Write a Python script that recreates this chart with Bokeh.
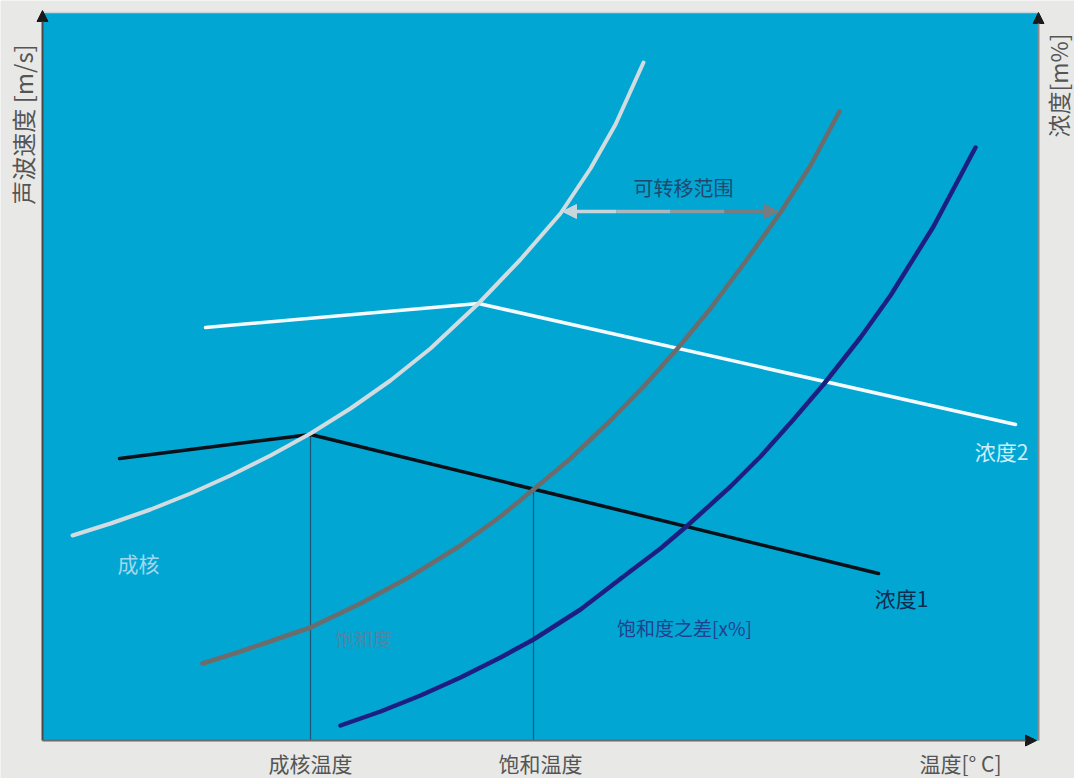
from bokeh.plotting import figure
from bokeh.models import Label, Arrow, NormalHead
from bokeh.embed import file_html
from bokeh.resources import INLINE
import math

# ---- data (temperature on x, sound velocity / concentration on y, relative units) ----
# nucleation curve
nuc_t = [30, 68, 108, 148, 188, 228, 268, 308, 348, 388, 436, 478, 518, 548, 573, 601]
nuc_v = [205, 217, 231, 247, 265, 285, 307, 332, 360, 392, 437, 481, 527, 572, 616, 678]

# saturation curve
sat_t = [160, 198, 233, 268, 318, 368, 418, 458, 491, 528, 568, 603, 635, 668, 703, 738, 768, 797]
sat_v = [77, 89, 101, 113, 137, 164, 195, 224, 251, 282, 320, 356, 392, 432, 479, 528, 575, 629]

# saturation difference curve [x%]
dif_t = [298, 338, 378, 418, 458, 491, 538, 581, 618, 645, 688, 718, 751, 781, 818, 848, 891, 933]
dif_v = [15, 29, 45, 63, 83, 101, 131, 164, 192, 215, 254, 284, 321, 356, 403, 445, 514, 593]

# concentration 1 and concentration 2 (kinked at the nucleation point)
c1_t = [77, 268, 836]
c1_v = [282, 306, 167]
c2_t = [163, 436, 973]
c2_v = [413, 437, 316]

# characteristic temperatures
nucleation_temp = 268
saturation_temp = 491
nucleation_temp_v = 306
saturation_temp_v = 251

# transferable range arrow (between nucleation and saturation curves)
range_v = 529
range_t0 = 520
range_t1 = 736

# plot frame extents
t_max = 996
v_max = 728

FONT = "Noto Sans CJK SC"
BLUE = "#01a6d3"
PAGE = "#e8e9e7"

p = figure(width=1074, height=778, x_range=(-42, 1032), y_range=(-38, 740),
           output_backend="svg", toolbar_location=None,
           x_axis_location=None, y_axis_location=None, min_border=0)
p.grid.visible = False
p.outline_line_color = None
p.background_fill_color = PAGE
p.border_fill_color = PAGE

# blue chart area
p.quad(left=[0], right=[t_max], bottom=[0], top=[v_max],
       fill_color=BLUE, line_color=None)
p.line([0, t_max], [v_max, v_max], line_color="#c9d6da", line_width=1.5)

# vertical drop lines at the characteristic temperatures
p.segment(x0=[nucleation_temp, saturation_temp], y0=[0, 0],
          x1=[nucleation_temp, saturation_temp],
          y1=[nucleation_temp_v, saturation_temp_v],
          line_color="#1d5670", line_width=1.2)

# concentration lines
p.line(c1_t, c1_v, line_color="#0a1018", line_width=3.5, line_join="round", line_cap="round")
p.line(c2_t, c2_v, line_color="#f4fbff", line_width=3.5, line_join="round", line_cap="round")

# curves
p.line(nuc_t, nuc_v, line_color="#d2dbe0", line_width=4, line_join="round", line_cap="round")
p.line(sat_t, sat_v, line_color="#6c6c6c", line_width=4.5, line_join="round", line_cap="round")
p.line(dif_t, dif_v, line_color="#1d1f80", line_width=4.5, line_join="round", line_cap="round")

# transferable range: double arrow shading from light to grey
ramp = ["#c8d6dc", "#aab8bf", "#8e999f", "#767d82"]
n = len(ramp)
step = (range_t1 - range_t0) / n
for i, col in enumerate(ramp):
    xs = range_t0 + i * step
    xe = range_t0 + (i + 1) * step
    head = NormalHead(size=14, fill_color=col, line_color=col)
    if i == 0:
        arrow = Arrow(x_start=xe, y_start=range_v, x_end=xs, y_end=range_v,
                      end=head, line_color=col, line_width=3.5)
    elif i == n - 1:
        arrow = Arrow(x_start=xs, y_start=range_v, x_end=xe, y_end=range_v,
                      end=head, line_color=col, line_width=3.5)
    else:
        arrow = Arrow(x_start=xs, y_start=range_v, x_end=xe, y_end=range_v,
                      end=None, line_color=col, line_width=3.5)
    p.add_layout(arrow)

# axes with arrow heads
p.add_layout(Arrow(x_start=0, y_start=0, x_end=0, y_end=v_max + 2,
                   line_color="#4a4a4a", line_width=2,
                   end=NormalHead(size=11, fill_color="#1a1a1a", line_color="#1a1a1a")))
p.add_layout(Arrow(x_start=t_max, y_start=0, x_end=t_max, y_end=v_max,
                   line_color="#8a8a8a", line_width=2,
                   end=NormalHead(size=11, fill_color="#1a1a1a", line_color="#1a1a1a")))
p.add_layout(Arrow(x_start=0, y_start=0, x_end=t_max - 2, y_end=0,
                   line_color="#6a6a6a", line_width=2,
                   end=NormalHead(size=11, fill_color="#1a1a1a", line_color="#1a1a1a")))


def label(x, y, text, color, size, angle=0.0, align="center"):
    p.add_layout(Label(x=x, y=y, text=text, text_color=color,
                       text_font=FONT, text_font_size=f"{size}px",
                       text_align=align, text_baseline="middle", angle=angle))


# curve and line labels
label(96, 178, "成核", "#a4d6ec", 21)
label(321, 102, "饱和度", "#4a88a8", 19)
label(642, 113, "饱和度之差[x%]", "#23408e", 19)
label(859, 143, "浓度1", "#0d2c50", 21)
label(959, 290, "浓度2", "#cdeefb", 21)
label(641, 553, "可转移范围", "#1f4a6e", 20)

# axis texts
label(nucleation_temp, -22, "成核温度", "#555555", 21)
label(498, -22, "饱和温度", "#555555", 21)
label(918, -22, "温度[° C]", "#555555", 21)
label(-20, 616, "声波速度 [m/s]", "#555555", 24, angle=math.pi / 2)
label(1015, 655, "浓度[m%]", "#555555", 23, angle=math.pi / 2)

open("out.html", "w").write(file_html(p, INLINE))
